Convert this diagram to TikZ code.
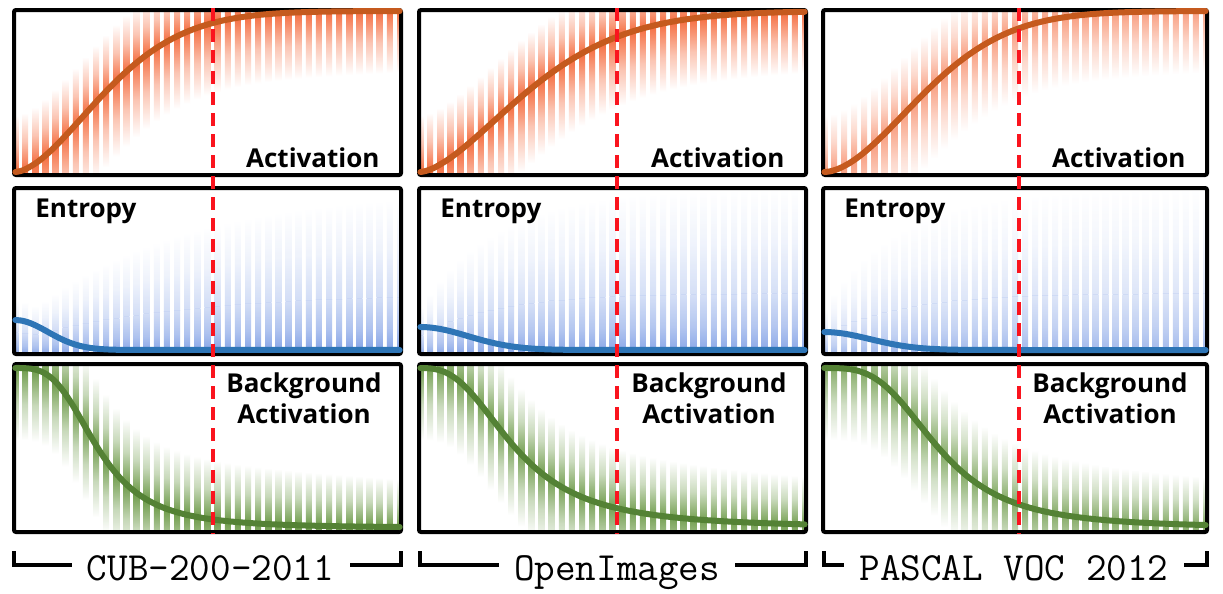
\documentclass[tikz,border=0pt]{standalone}
\usepackage{fontspec}
\newfontfamily\labfont{Open Sans}
\definecolor{actdot}{RGB}{245,95,45}
\definecolor{actline}{RGB}{197,90,30}
\definecolor{entdot}{RGB}{55,105,215}
\definecolor{entline}{RGB}{46,117,182}
\definecolor{bgdot}{RGB}{95,145,55}
\definecolor{bgline}{RGB}{84,130,53}
\definecolor{divred}{RGB}{250,20,30}
\tikzset{
  frame/.style={draw=black, line width=2pt, rounded corners=1pt},
  actcurve/.style={draw=actline, line width=3pt, line cap=round},
  entcurve/.style={draw=entline, line width=3pt, line cap=round},
  bgcurve/.style={draw=bgline, line width=3pt, line cap=round},
  lab/.style={font=\labfont\bfseries\fontsize{13}{15}\selectfont, inner sep=0pt, text=black},
  dslabel/.style={font=\ttfamily\fontsize{20}{24}\selectfont, inner sep=0pt},
  bracket/.style={draw=black, line width=2pt},
  divider/.style={draw=divred, line width=2pt, dash pattern=on 6.5pt off 4pt},
}
% activation panel: #1 a, #2 p, #3 opacity, #4 index
\newcommand{\actpanel}[4]{%
  \pgfmathsetmacro\PW{(\FR-\FL-2)*0.5}%
  \pgfmathsetmacro\PH{((\FB-3)-(\FT+1))*0.5}%
  \begin{scope}
    \clip (\FL+1,\FT+1) rectangle (\FR-1,\FB-1);
    \begin{scope}[shift={(\FL+1,\FB-3)}, x={(\PW pt,0pt)}, y={(0pt,\PH pt)}, fill opacity=#3]
      \foreach \i in {0,...,38}{%
        \pgfmathsetmacro\myt{max(\i/38,0.001)}%
        \pgfmathsetmacro\myc{1-exp(-(\myt/#1)^#2)}%
        \pgfmathsetmacro\myL{0.5-0.12*\myt}%
        \shade[top color=white, bottom color=actdot, middle color=actdot!40]
          ([xshift=-1.5pt]\myt,\myc) rectangle ([xshift=1.5pt]\myt,\myc+0.35);
        \shade[top color=actdot, bottom color=white, middle color=actdot!40]
          ([xshift=-1.5pt]\myt,\myc-\myL) rectangle ([xshift=1.5pt]\myt,\myc);
      }
    \end{scope}
  \end{scope}
  \draw[frame] (\FL,\FT) rectangle (\FR,\FB);
  \begin{scope}[shift={(\FL+1,\FB-3)}, x={(\PW pt,0pt)}, y={(0pt,\PH pt)}]
    \draw[actcurve] plot[domain=0.001:1, samples=80, smooth] (\x,{1-exp(-(\x/#1)^#2)});
  \end{scope}
  \node[lab, anchor=base east] (act#4) at (\FR-21,\FB-8) {Activation};
}
% entropy panel: #1 A, #2 w, #3 s0, #4 S, #5 tau, #6 opacity, #7 index
\newcommand{\entpanel}[7]{%
  \pgfmathsetmacro\PW{(\FR-\FL-2)*0.5}%
  \pgfmathsetmacro\PH{((\FB-4)-(\FT))*0.5}%
  \begin{scope}
    \clip (\FL+1,\FT+1) rectangle (\FR-1,\FB-1);
    \begin{scope}[shift={(\FL+1,\FB-4)}, x={(\PW pt,0pt)}, y={(0pt,\PH pt)}, fill opacity=#6]
      \foreach \i in {0,...,38}{%
        \pgfmathsetmacro\myt{max(\i/38,0.001)}%
        \pgfmathsetmacro\myc{#1*exp(-min((\myt/#2)^2,9))}%
        \pgfmathsetmacro\myT{max(#3+#4*(1-exp(-\myt/#5)),\myc+0.12)}%
        \pgfmathsetmacro\mym{0.35*\myT}%
        \shade[top color=entdot!28, bottom color=entdot!85, middle color=entdot!50]
          ([xshift=-1.5pt]\myt,-0.05) rectangle ([xshift=1.5pt]\myt,\mym);
        \shade[top color=white, bottom color=entdot!28, middle color=entdot!10]
          ([xshift=-1.5pt]\myt,\mym) rectangle ([xshift=1.5pt]\myt,\myT);
      }
    \end{scope}
  \end{scope}
  \draw[frame] (\FL,\FT) rectangle (\FR,\FB);
  \begin{scope}[shift={(\FL+1,\FB-4)}, x={(\PW pt,0pt)}, y={(0pt,\PH pt)}]
    \draw[entcurve] plot[domain=0.001:1, samples=80, smooth] (\x,{#1*exp(-min((\x/#2)^2,9))});
  \end{scope}
  \node[lab, anchor=base west] (ent#7) at (\FL+21,\FT+29) {Entropy};
}
% background panel: #1 c, #2 k, #3 opacity, #4 index
\newcommand{\bgpanel}[4]{%
  \pgfmathsetmacro\PW{(\FR-\FL-2)*0.5}%
  \pgfmathsetmacro\PH{((\FB-4)-(\FT+4))*0.5}%
  \begin{scope}
    \clip (\FL+1,\FT+1) rectangle (\FR-1,\FB-1);
    \begin{scope}[shift={(\FL+1,\FB-4)}, x={(\PW pt,0pt)}, y={(0pt,\PH pt)}, fill opacity=#3]
      \foreach \i in {0,...,38}{%
        \pgfmathsetmacro\myt{max(\i/38,0.001)}%
        \pgfmathsetmacro\myc{1/(1+(\myt/#1)^#2)}%
        \pgfmathsetmacro\myU{0.45-0.15*\myt}%
        \shade[top color=white, bottom color=bgdot, middle color=bgdot!38]
          ([xshift=-1.5pt]\myt,\myc) rectangle ([xshift=1.5pt]\myt,\myc+\myU);
        \shade[top color=bgdot, bottom color=white, middle color=bgdot!38]
          ([xshift=-1.5pt]\myt,\myc-0.45) rectangle ([xshift=1.5pt]\myt,\myc);
      }
    \end{scope}
  \end{scope}
  \draw[frame] (\FL,\FT) rectangle (\FR,\FB);
  \begin{scope}[shift={(\FL+1,\FB-4)}, x={(\PW pt,0pt)}, y={(0pt,\PH pt)}]
    \draw[bgcurve] plot[domain=0.001:1, samples=80, smooth] (\x,{1/(1+(\x/#1)^#2)});
  \end{scope}
  \node[lab, anchor=base] (bga#4) at (\FR-97,\FT+28) {Background};
  \node[lab, anchor=base] (bgb#4) at (\FR-97,\FT+59) {Activation};
}
\begin{document}
\begin{tikzpicture}[x=0.5pt, y=-0.5pt]
  \useasboundingbox (0,0) rectangle (1223,594);
  \fill[white] (0,0) rectangle (1223,594);
  % row 1
  \def\FT{10}\def\FB{175}
  \def\FL{14}\def\FR{401}\actpanel{0.293}{1.7}{0.9}{1}
  \def\FL{419}\def\FR{806}\actpanel{0.351}{1.6}{0.9}{2}
  \def\FL{823}\def\FR{1207}\actpanel{0.327}{1.8}{0.6}{3}
  % row 2
  \def\FT{188}\def\FB{354}
  \def\FL{14}\def\FR{401}\entpanel{0.185}{0.12}{0.15}{0.85}{0.4}{0.8}{1}
  \def\FL{419}\def\FR{806}\entpanel{0.142}{0.175}{0.25}{0.75}{0.2}{0.75}{2}
  \def\FL{823}\def\FR{1207}\entpanel{0.111}{0.17}{0.25}{0.75}{0.2}{0.6}{3}
  % row 3
  \def\FT{364}\def\FB{532}
  \def\FL{14}\def\FR{401}\bgpanel{0.215}{3.3}{0.9}{1}
  \def\FL{419}\def\FR{806}\bgpanel{0.248}{2.7}{0.85}{2}
  \def\FL{823}\def\FR{1207}\bgpanel{0.30}{3.3}{0.75}{3}
  % dashed dividers
  \coordinate (d1t) at (213,8);  \coordinate (d1b) at (213,534);
  \coordinate (d2t) at (617,8);  \coordinate (d2b) at (617,534);
  \coordinate (d3t) at (1019,8); \coordinate (d3b) at (1019,534);
  \draw[divider] (d1t) -- (d1b);
  \draw[divider] (d2t) -- (d2b);
  \draw[divider] (d3t) -- (d3b);
  % dataset labels with brackets
  \node[dslabel, anchor=base] (ds1) at (210.5,580) {CUB-200-2011};
  \node[dslabel, anchor=base] (ds2) at (617,580) {OpenImages};
  \node[dslabel, anchor=base] (ds3) at (1014,580) {PASCAL VOC 2012};
  \coordinate (bl1) at (14,551);   \coordinate (bc1) at (14,565);
  \coordinate (br1) at (401,551);  \coordinate (brc1) at (401,565);
  \coordinate (bl2) at (420,551);  \coordinate (bc2) at (420,565);
  \coordinate (br2) at (806,551);  \coordinate (brc2) at (806,565);
  \coordinate (bl3) at (824,551);  \coordinate (bc3) at (824,565);
  \coordinate (br3) at (1207,551); \coordinate (brc3) at (1207,565);
  \draw[bracket] (bl1) -- (bc1) -- ([xshift=-7.5pt]bc1 -| ds1.west);
  \draw[bracket] (br1) -- (brc1) -- ([xshift=7.5pt]brc1 -| ds1.east);
  \draw[bracket] (bl2) -- (bc2) -- ([xshift=-7.5pt]bc2 -| ds2.west);
  \draw[bracket] (br2) -- (brc2) -- ([xshift=7.5pt]brc2 -| ds2.east);
  \draw[bracket] (bl3) -- (bc3) -- ([xshift=-7.5pt]bc3 -| ds3.west);
  \draw[bracket] (br3) -- (brc3) -- ([xshift=7.5pt]brc3 -| ds3.east);
\end{tikzpicture}
\end{document}
